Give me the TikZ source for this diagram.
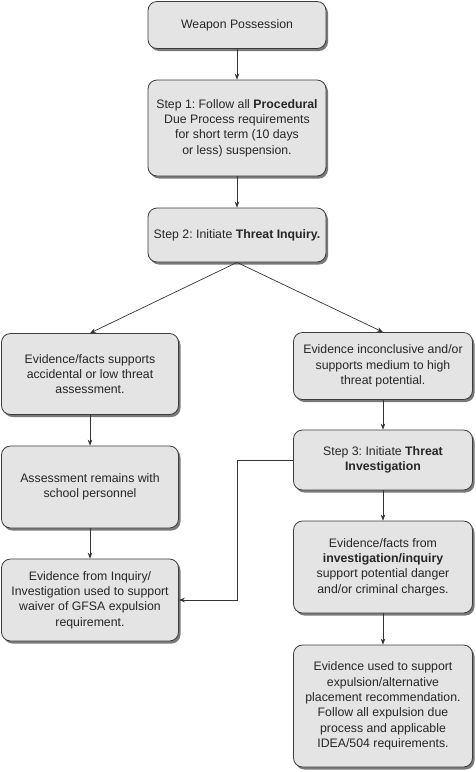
\documentclass[tikz,border=0pt]{standalone}
\usepackage{fontspec}
\setmainfont{Liberation Sans}
\frenchspacing
\usetikzlibrary{shadows,arrows.meta}
\definecolor{boxfill}{HTML}{E4E4E4}
\definecolor{boxline}{HTML}{3C3C3C}
\definecolor{shade}{HTML}{7A7A7A}

\begin{document}
\begin{tikzpicture}[x=1pt,y=-1pt,
    >={Stealth[length=6pt,width=4.5pt]},
    box/.style={draw=boxline,fill=boxfill,rounded corners=9pt,line width=0.8pt,
      align=center,inner sep=2pt,text=black!85,
      font=\fontsize{12.3}{15.3}\selectfont,
      drop shadow={shadow xshift=2pt,shadow yshift=-2.5pt,fill=shade,opacity=1}},
    link/.style={->,draw=black!80,line width=0.7pt}]
            \useasboundingbox (0,0) rectangle (475,772);
            \node[box,minimum width=178pt,minimum height=47pt] (wp) at (237,25) {Weapon Possession};
            \node[box,minimum width=178pt,minimum height=96pt] (s1) at (237,128)
                {Step 1: Follow all \textbf{Procedural}\\Due Process requirements\\for short term (10 days\\or less) suspension.};
            \node[box,minimum width=178pt,minimum height=54pt] (s2) at (237,235) {Step 2: Initiate \textbf{Threat Inquiry.}};
            \node[box,minimum width=177pt,minimum height=81pt] (low) at (90,374)
                {Evidence/facts supports\\accidental or low threat\\assessment.};
            \node[box,minimum width=179pt,minimum height=67pt] (high) at (383,366)
                {Evidence inconclusive and/or\\supports medium to high\\threat potential.};
            \node[box,minimum width=177pt,minimum height=82pt] (stay) at (90,487)
                {Assessment remains with\\school personnel};
            \node[box,minimum width=179pt,minimum height=60pt] (s3) at (383,460)
                {Step 3: Initiate \textbf{Threat}\\\textbf{Investigation}};
            \node[box,minimum width=177pt,minimum height=82pt] (waiver) at (90,600)
                {Evidence from Inquiry/\\Investigation used to support\\waiver of GFSA expulsion\\requirement.};
            \node[box,minimum width=179pt,minimum height=92pt] (danger) at (383,567)
                {Evidence/facts from\\\textbf{investigation/inquiry}\\support potential danger\\and/or criminal charges.};
            \node[box,minimum width=179pt,minimum height=122pt] (expel) at (383,706)
                {Evidence used to support\\expulsion/alternative\\placement recommendation.\\Follow all expulsion due\\process and applicable\\IDEA/504 requirements.};
            \draw[link] (wp) -- (s1);
            \draw[link] (s1) -- (s2);
            \draw[link] (s2.south) -- (low.north);
            \draw[link] (s2.south) -- (high.north);
            \draw[link] (low) -- (stay);
            \draw[link] (stay) -- (waiver);
            \draw[link] (high) -- (s3);
            \draw[link] (s3) -- (danger);
            \draw[link] (danger) -- (expel);
            \draw[link] (s3.west) -- (s3.west -| s2.south) |- (waiver.east);
        \end{tikzpicture}
\end{document}
